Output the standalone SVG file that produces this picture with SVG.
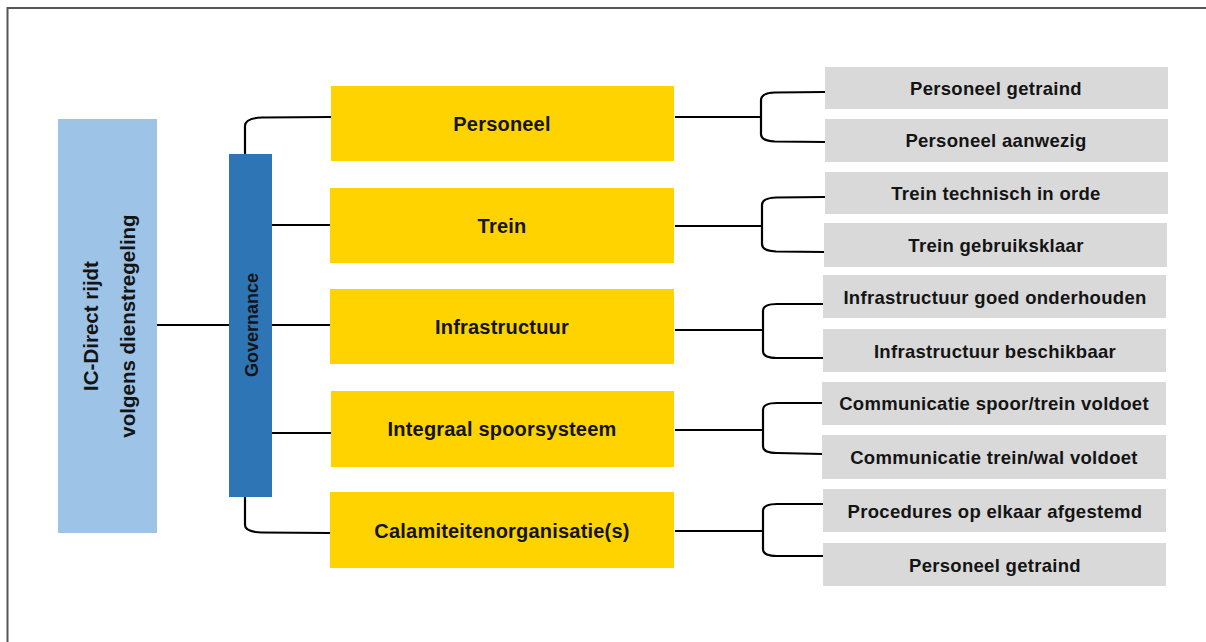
<svg xmlns="http://www.w3.org/2000/svg" width="1206" height="642" viewBox="0 0 1206 642">
<style>
.t{font-family:"Liberation Sans",Arial,sans-serif;font-weight:bold;fill:#141414;text-anchor:middle}
.y{fill:#FFD300}
.g{fill:#D9D9D9}
.ty{font-size:20px;letter-spacing:0.2px}
.tg{font-size:18.5px;letter-spacing:0.3px}
.c{fill:none;stroke:#000;stroke-width:2.2}
</style>
<rect x="0" y="0" width="1206" height="642" fill="#fff"/>
<path d="M7.5,642 V8 H1206" fill="none" stroke="#555" stroke-width="2"/>
<g id="connectors">
<path class="c" d="M157,325 H229"/>
<path class="c" d="M245,154 V126 Q245,118 262,117.5 L331,117"/>
<path class="c" d="M272,225 H330"/>
<path class="c" d="M272,325 H330"/>
<path class="c" d="M272,433 H331"/>
<path class="c" d="M245,497 V525 Q245,532 262,532.5 L330,533"/>
<path class="c" d="M675,117 H761 M825,92 L775,92.5 Q761,93 761,100 V134 Q761,141 775,141.5 L825,142"/>
<path class="c" d="M675,226 H762 M825,197 L776,197.5 Q762,198 762,205 V244 Q762,251 776,251.5 L825,252"/>
<path class="c" d="M675,330 H763 M824,304 L777,304 Q763,304 763,311 V351 Q763,358 777,358 L824,358"/>
<path class="c" d="M675,430 H763 M823,403 L777,403 Q763,403 763,410 V446 Q763,453 777,453 L823,454"/>
<path class="c" d="M675,531 H763 M823,504 L777,504 Q763,504 763,511 V549 Q763,556 777,556 L823,556"/>
</g>
<g id="root">
<rect x="58" y="119" width="99" height="414" fill="#9DC3E6"/>
<text class="t" font-size="20.5" transform="translate(98,326) rotate(-90)">IC-Direct rijdt</text>
<text class="t" font-size="20.5" transform="translate(135,326) rotate(-90)">volgens dienstregeling</text>
</g>
<g id="governance">
<rect x="229" y="154" width="43" height="343" fill="#2E75B6"/>
<text class="t" font-size="18" transform="translate(258,325) rotate(-90)">Governance</text>
</g>
<g id="personeel">
<rect class="y" x="331" y="86" width="343" height="75"/>
<text class="t ty" x="502" y="131">Personeel</text>
</g>
<g id="trein">
<rect class="y" x="330" y="188" width="344" height="75"/>
<text class="t ty" x="502" y="233">Trein</text>
</g>
<g id="infrastructuur">
<rect class="y" x="330" y="289" width="344" height="75"/>
<text class="t ty" x="502" y="334">Infrastructuur</text>
</g>
<g id="integraal">
<rect class="y" x="331" y="391" width="343" height="76"/>
<text class="t ty" x="502" y="436">Integraal spoorsysteem</text>
</g>
<g id="calamiteiten">
<rect class="y" x="330" y="492" width="344" height="76"/>
<text class="t ty" x="502" y="538">Calamiteitenorganisatie(s)</text>
</g>
<g id="g1"><rect class="g" x="825" y="67" width="343" height="42"/><text class="t tg" x="996" y="95">Personeel getraind</text></g>
<g id="g2"><rect class="g" x="825" y="119" width="343" height="43"/><text class="t tg" x="996" y="147">Personeel aanwezig</text></g>
<g id="g3"><rect class="g" x="825" y="172" width="343" height="42"/><text class="t tg" x="996" y="200">Trein technisch in orde</text></g>
<g id="g4"><rect class="g" x="824" y="223" width="343" height="44"/><text class="t tg" x="996" y="252">Trein gebruiksklaar</text></g>
<g id="g5"><rect class="g" x="823" y="275" width="343" height="43"/><text class="t tg" x="995" y="304">Infrastructuur goed onderhouden</text></g>
<g id="g6"><rect class="g" x="823" y="329" width="343" height="43"/><text class="t tg" x="995" y="358">Infrastructuur beschikbaar</text></g>
<g id="g7"><rect class="g" x="822" y="382" width="344" height="43"/><text class="t tg" x="994" y="410">Communicatie spoor/trein voldoet</text></g>
<g id="g8"><rect class="g" x="822" y="435" width="344" height="44"/><text class="t tg" x="994" y="464">Communicatie trein/wal voldoet</text></g>
<g id="g9"><rect class="g" x="823" y="489" width="343" height="43"/><text class="t tg" x="995" y="518">Procedures op elkaar afgestemd</text></g>
<g id="g10"><rect class="g" x="823" y="543" width="343" height="43"/><text class="t tg" x="995" y="572">Personeel getraind</text></g>
</svg>
